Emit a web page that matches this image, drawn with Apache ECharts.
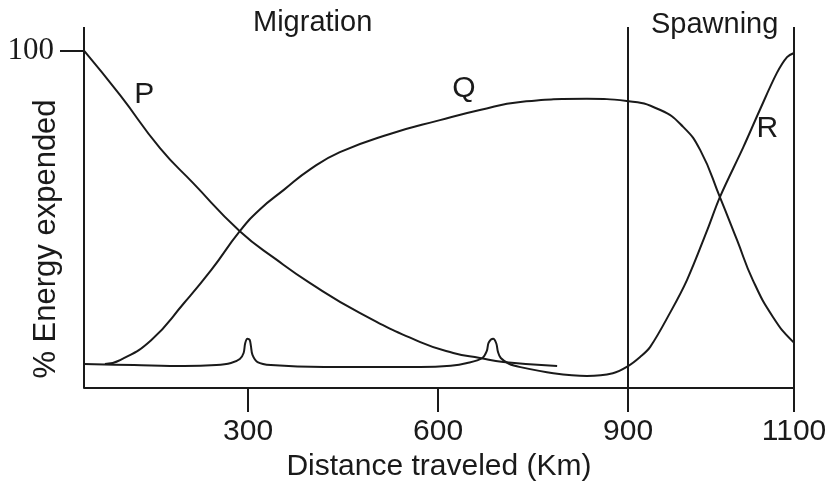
<!DOCTYPE html>
<html>
<head>
<meta charset="utf-8">
<script src="https://cdn.jsdelivr.net/npm/echarts@6/dist/echarts.min.js"></script>
<style>
  html, body { margin: 0; padding: 0; background: #fff; }
  #chart { width: 836px; height: 485px; }
</style>
</head>
<body>
<div id="chart"></div>
<script>
// x values are in the drawing's own (hand drawn) distance units
const xTickValues = [300, 600, 900, 1162];
const xTickLabels = ['300', '600', '900', '1100'];
const yTickValues = [100];

// P: falls from 100
const curveP = [[41, 100], [98, 86.8], [161, 71.1], [213, 60.8], [287, 46.5], [346, 37.9], [398, 31.1],
  [477, 22.2], [572, 13.6], [624, 10.4], [666, 8.9], [703, 7.7], [788, 6.5]];

// Q: rises, plateaus, drops in spawning
const curveQ = [[74, 7.1], [98, 8.3], [147, 14.2], [199, 25.2], [242, 35.0], [287, 46.5], [319, 53.0],
  [357, 58.8], [398, 64.8], [445, 69.9], [524, 75.3], [603, 79.4], [666, 82.4], [730, 84.8],
  [835, 85.7], [898, 85.1], [951, 82.4], [987, 77.4], [1014, 70.5], [1045, 56.6], [1072, 43.9],
  [1097, 32.0], [1129, 21.0], [1161, 13.6], [1183, 10.7]];

// R: low with two spikes, then rises to 100
const curveR = [[41, 7.1], [120, 6.8], [199, 6.5], [250, 6.8], [273, 7.4], [287, 8.6], [293, 10.4],
  [295.5, 13.3], [299, 14.6], [302.5, 14.3], [304.5, 12.5], [307, 9.8], [315, 7.7], [336, 6.8],
  [420, 6.2], [572, 6.2], [620, 6.6], [646, 7.4], [670, 8.9], [677, 11], [680, 13.5], [687, 14.6],
  [692, 13.2], [694.5, 10.8], [699, 8.9], [712, 7.2], [730, 6.2], [782, 4.4], [835, 3.6],
  [876, 4.4], [900, 6.5], [919, 9.2], [935, 12.2], [966, 22.2], [993, 32.0], [1025, 46.8],
  [1045, 56.6], [1082, 71.4], [1108, 82.4], [1135, 93.4], [1151, 98.1], [1162, 99.3]];

const ink = '#1a1a1a';
const sans = 'Liberation Sans';
const xMin = 41, xMax = 1162, yTop = 107;
const tickDrop = -7.1; // how far the x ticks hang below the axis, in y units

const chart = echarts.init(document.getElementById('chart'));

function curve(name, data, labelAt, smooth) {
  return {
    name: name,
    type: 'line',
    data: data,
    smooth: smooth,
    showSymbol: false,
    clip: false,
    silent: true,
    lineStyle: { color: ink, width: 2 },
    markPoint: {
      symbol: 'circle',
      symbolSize: 0,
      itemStyle: { color: 'transparent' },
      label: { show: true, position: 'inside', formatter: name, color: ink, fontFamily: sans, fontSize: 30 },
      data: [{ coord: labelAt }]
    }
  };
}

const seriesP = curve('P', curveP, [136, 87], 0.5);
const seriesQ = curve('Q', curveQ, [641, 88.6], 0.5);
const seriesR = curve('R', curveR, [1120, 76.8], 0.35);

// y axis line, x ticks, and the 900 / 1100 boundaries which run the full height
const tickTops = [0, 0, yTop, yTop];
const rules = xTickValues.map((v, i) => [{ coord: [v, tickDrop] }, { coord: [v, tickTops[i]] }]);
rules.push([{ coord: [xMin, 0] }, { coord: [xMin, yTop] }]);
seriesR.markLine = {
  symbol: 'none',
  silent: true,
  label: { show: false },
  lineStyle: { color: ink, width: 2, type: 'solid' },
  data: rules
};

chart.setOption({
  backgroundColor: '#fff',
  animation: false,
  grid: { left: 84, right: 42, top: 27, bottom: 73, containLabel: false, outerBoundsMode: 'none' },
  xAxis: {
    type: 'value',
    min: xMin,
    max: xMax,
    name: 'Distance traveled (Km)',
    nameLocation: 'middle',
    nameGap: 40,
    nameMoveOverlap: false,
    nameTextStyle: { color: ink, fontFamily: sans, fontSize: 30 },
    axisLine: { onZero: true, lineStyle: { color: ink, width: 2 } },
    axisTick: { show: false },
    axisLabel: {
      customValues: xTickValues,
      margin: 5,
      color: ink, fontFamily: sans, fontSize: 30,
      formatter: v => xTickLabels[xTickValues.indexOf(v)]
    },
    splitLine: { show: false }
  },
  yAxis: {
    type: 'value',
    min: tickDrop,
    max: yTop,
    name: '% Energy expended',
    nameLocation: 'middle',
    nameGap: 22,
    nameMoveOverlap: false,
    nameTextStyle: { color: ink, fontFamily: sans, fontSize: 31, padding: [0, 39, 0, 0] },
    axisLine: { show: false, onZero: false },
    axisTick: { show: true, customValues: yTickValues, length: 24, lineStyle: { color: ink, width: 2 } },
    axisLabel: {
      customValues: yTickValues,
      margin: 30,
      color: ink, fontFamily: 'Liberation Serif', fontSize: 31
    },
    splitLine: { show: false }
  },
  graphic: [
    { type: 'text', left: 253, top: 8, style: { text: 'Migration', fill: ink, font: '29px "Liberation Sans"' } },
    { type: 'text', left: 651, top: 10, style: { text: 'Spawning', fill: ink, font: '29px "Liberation Sans"' } }
  ],
  series: [seriesP, seriesQ, seriesR]
});
</script>
</body>
</html>
